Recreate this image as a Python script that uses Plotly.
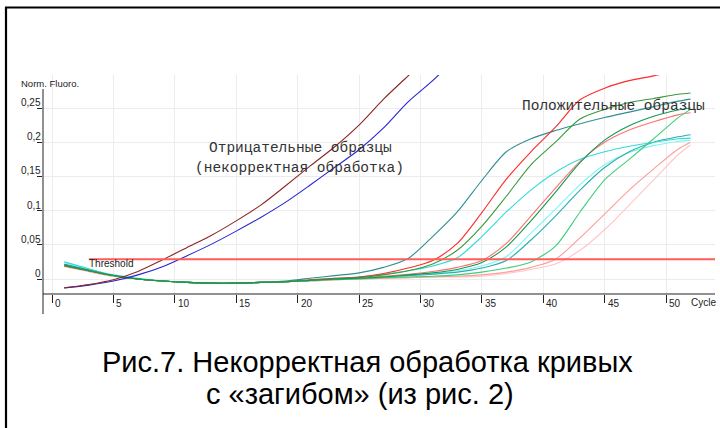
import plotly.graph_objects as go

# ---- cycle grid shared by all amplification curves ----
cycles = [1, 3, 5, 7, 9, 11, 13, 15, 17, 19, 21, 23, 25, 27, 29, 31, 33, 35, 37, 39,
          41, 43, 45, 47, 49, 51, 52]

# ---- negative samples (wrong baseline processing) ----
neg_darkred = [-0.013, -0.008, -0.001, 0.011, 0.028, 0.046, 0.064, 0.085, 0.108, 0.136,
               0.165, 0.193, 0.225, 0.263, 0.297, 0.330, 0.360, 0.390, 0.420, 0.450,
               0.480, 0.510, 0.540, 0.570, 0.600, 0.630, 0.640]
neg_blue = [-0.013, -0.009, -0.003, 0.006, 0.018, 0.034, 0.051, 0.070, 0.090, 0.112,
            0.137, 0.163, 0.189, 0.221, 0.259, 0.290, 0.325, 0.360, 0.390, 0.420,
            0.450, 0.480, 0.510, 0.540, 0.570, 0.600, 0.610]

# ---- positive samples ----
pos_teal = [0.021, 0.013, 0.005, 0.000, -0.003, -0.005, -0.006, -0.006, -0.005, -0.003,
            0.001, 0.005, 0.009, 0.017, 0.030, 0.062, 0.098, 0.144, 0.186, 0.205,
            0.217, 0.227, 0.236, 0.244, 0.252, 0.260, 0.263]
pos_red = [0.019, 0.012, 0.005, 0.000, -0.003, -0.005, -0.006, -0.006, -0.005, -0.004,
           -0.001, 0.001, 0.003, 0.008, 0.016, 0.027, 0.052, 0.097, 0.146, 0.186,
           0.222, 0.262, 0.279, 0.290, 0.297, 0.305, 0.308]
pos_green = [0.020, 0.012, 0.005, 0.000, -0.003, -0.005, -0.006, -0.006, -0.005, -0.004,
             -0.002, 0.000, 0.002, 0.006, 0.012, 0.022, 0.042, 0.077, 0.121, 0.167,
             0.200, 0.234, 0.248, 0.258, 0.264, 0.270, 0.272]
pos_cyan = [0.025, 0.015, 0.006, 0.001, -0.003, -0.005, -0.006, -0.006, -0.005, -0.004,
            -0.002, 0.001, 0.003, 0.007, 0.012, 0.019, 0.031, 0.062, 0.098, 0.130,
            0.156, 0.175, 0.186, 0.194, 0.200, 0.205, 0.206]
pos_salmon = [0.020, 0.012, 0.005, 0.000, -0.003, -0.005, -0.006, -0.006, -0.005, -0.004,
              -0.002, 0.000, 0.002, 0.004, 0.007, 0.011, 0.017, 0.027, 0.052, 0.092,
              0.133, 0.172, 0.200, 0.218, 0.230, 0.240, 0.243]
pos_seagreen = [0.020, 0.012, 0.005, 0.000, -0.003, -0.005, -0.006, -0.006, -0.005, -0.004,
                -0.002, 0.000, 0.001, 0.003, 0.006, 0.009, 0.014, 0.024, 0.047, 0.085,
                0.127, 0.170, 0.203, 0.224, 0.238, 0.247, 0.250]
pos_lightcyan = [0.024, 0.014, 0.006, 0.001, -0.003, -0.005, -0.006, -0.006, -0.005, -0.004,
                 -0.002, 0.000, 0.001, 0.003, 0.005, 0.008, 0.012, 0.019, 0.033, 0.067,
                 0.102, 0.138, 0.167, 0.185, 0.195, 0.201, 0.203]
pos_teal2 = [0.022, 0.013, 0.005, 0.000, -0.003, -0.005, -0.006, -0.006, -0.005, -0.004,
             -0.002, 0.000, 0.001, 0.003, 0.005, 0.007, 0.010, 0.016, 0.027, 0.057,
             0.092, 0.130, 0.163, 0.186, 0.200, 0.208, 0.211]
pos_lategreen = [0.020, 0.012, 0.005, 0.000, -0.003, -0.005, -0.006, -0.006, -0.005, -0.004,
                 -0.002, -0.001, 0.000, 0.002, 0.003, 0.004, 0.006, 0.010, 0.016, 0.025,
                 0.048, 0.098, 0.145, 0.175, 0.205, 0.236, 0.248]
pos_pink = [0.019, 0.011, 0.004, 0.000, -0.003, -0.005, -0.006, -0.006, -0.005, -0.004,
            -0.003, -0.001, 0.000, 0.001, 0.002, 0.003, 0.004, 0.006, 0.010, 0.017,
            0.029, 0.060, 0.095, 0.130, 0.161, 0.190, 0.200]
pos_lightpink = [0.018, 0.011, 0.004, 0.000, -0.003, -0.005, -0.006, -0.006, -0.005, -0.004,
                 -0.003, -0.001, 0.000, 0.001, 0.002, 0.003, 0.003, 0.004, 0.008, 0.014,
                 0.022, 0.042, 0.072, 0.108, 0.145, 0.182, 0.196]

threshold_value = 0.029
threshold_cycles = [3, 54]

x_ticks = [0, 5, 10, 15, 20, 25, 30, 35, 40, 45, 50]
y_ticks = [0, 0.05, 0.1, 0.15, 0.2, 0.25]
y_tick_text = ["0", "0,05", "0,1", "0,15", "0,2", "0,25"]

# ---- page geometry (pixels) ----
W, H = 720, 428
L, R, T, B = 43, 5, 75, 134
PW, PH = W - L - R, H - T - B


def px_x(px):
    return (px - L) / PW


def px_y(py):
    return (H - B - py) / PH


series = [
    (pos_lightpink, "#ffc6c6"),
    (pos_pink, "#ff9c9c"),
    (pos_lightcyan, "#80f4f4"),
    (pos_teal2, "#2aaeb0"),
    (pos_salmon, "#ff7070"),
    (pos_cyan, "#33dada"),
    (pos_teal, "#2f8f90"),
    (pos_red, "#ff2a2a"),
    (pos_lategreen, "#3ccf7a"),
    (pos_green, "#3a9a3a"),
    (pos_seagreen, "#129a55"),
    (neg_blue, "#2525d0"),
    (neg_darkred, "#8b2525"),
]

fig = go.Figure()
for ys, col in series:
    fig.add_trace(go.Scatter(x=cycles, y=ys, mode="lines",
                             line=dict(color=col, width=1.1, shape="spline", smoothing=0.8),
                             hoverinfo="skip", showlegend=False))

fig.add_trace(go.Scatter(x=threshold_cycles, y=[threshold_value] * 2, mode="lines",
                         line=dict(color="#ff5c5c", width=2),
                         hoverinfo="skip", showlegend=False))

fig.update_layout(
    width=W, height=H,
    margin=dict(l=L, r=R, t=T, b=B, pad=0),
    paper_bgcolor="white", plot_bgcolor="white",
    showlegend=False,
    font=dict(family="Liberation Sans, Arial", color="#222"),
    xaxis=dict(range=[(L - 52) / 12.28, (W - R - 52) / 12.28],
               tickvals=x_ticks, showticklabels=False,
               ticks="outside", ticklen=8, tickcolor="#222", tickwidth=1,
               showgrid=True, gridcolor="#ececec", gridwidth=1,
               zeroline=False, showline=False),
    yaxis=dict(range=[(279 - (H - B)) / 684, (279 - T) / 684],
               tickvals=y_ticks, showticklabels=False,
               ticks="outside", ticklen=5, tickcolor="#222", tickwidth=1,
               showgrid=True, gridcolor="#ececec", gridwidth=1,
               zeroline=False, showline=False),
)

shapes = [
    # axis lines
    dict(type="line", xref="paper", yref="paper", x0=0, x1=px_x(715),
         y0=0, y1=0, line=dict(color="#222", width=1)),
    dict(type="line", xref="paper", yref="paper", x0=0, x1=0,
         y0=px_y(314), y1=px_y(89), line=dict(color="#222", width=1)),
    # frame lines
    dict(type="line", xref="paper", yref="paper", x0=px_x(5), x1=px_x(720),
         y0=px_y(7.5), y1=px_y(7.5), line=dict(color="black", width=2.2)),
    dict(type="line", xref="paper", yref="paper", x0=px_x(6), x1=px_x(6),
         y0=px_y(7), y1=px_y(428), line=dict(color="black", width=2.2)),
]
fig.update_layout(shapes=shapes)

ann = []
tick_font = dict(family="Liberation Sans, Arial", size=10, color="#222")
for v in x_ticks:
    ann.append(dict(x=v, y=px_y(303), xref="x", yref="paper", text=str(v),
                    showarrow=False, xanchor="left", yanchor="middle", xshift=1,
                    font=tick_font))
ann.append(dict(x=px_x(689), y=px_y(302), xref="paper", yref="paper", text="Cycle",
                showarrow=False, xanchor="left", yanchor="middle", font=tick_font))
for v, t in zip(y_ticks, y_tick_text):
    ann.append(dict(x=px_x(43), y=v, xref="paper", yref="y", text=t,
                    showarrow=False, xanchor="right", yanchor="bottom", yshift=-2,
                    font=tick_font))
ann.append(dict(x=px_x(19), y=px_y(83.5), xref="paper", yref="paper", text="Norm. Fluoro.",
                showarrow=False, xanchor="left", yanchor="middle",
                font=dict(family="Liberation Sans, Arial", size=9.5, color="#222")))
ann.append(dict(x=threshold_cycles[0], y=px_y(263), xref="x", yref="paper", text="Threshold",
                showarrow=False, xanchor="left", yanchor="middle", xshift=-2,
                font=tick_font))

mono = dict(family="Liberation Mono, Courier New", size=14.5, color="#333")
ann.append(dict(x=px_x(300), y=px_y(148), xref="paper", yref="paper",
                text="Отрицательные образцы", showarrow=False,
                xanchor="center", yanchor="middle", font=mono))
ann.append(dict(x=px_x(299), y=px_y(168), xref="paper", yref="paper",
                text="(некорректная обработка)", showarrow=False,
                xanchor="center", yanchor="middle", font=mono))
ann.append(dict(x=px_x(613), y=px_y(106), xref="paper", yref="paper",
                text="Положительные образцы", showarrow=False,
                xanchor="center", yanchor="middle", font=mono))

cap = dict(family="Liberation Sans, Arial", size=29, color="black")
ann.append(dict(x=px_x(367), y=px_y(362), xref="paper", yref="paper",
                text="Рис.7. Некорректная обработка кривых", showarrow=False,
                xanchor="center", yanchor="middle", font=cap))
ann.append(dict(x=px_x(360), y=px_y(394), xref="paper", yref="paper",
                text="с «загибом» (из рис. 2)", showarrow=False,
                xanchor="center", yanchor="middle", font=cap))
fig.update_layout(annotations=ann)

fig.write_html("out.html")
